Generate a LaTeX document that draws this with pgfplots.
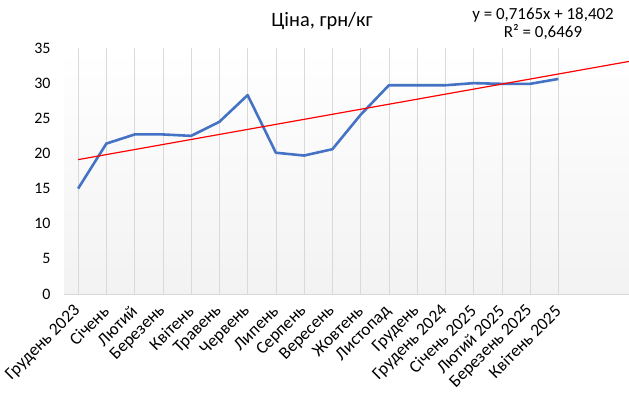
\documentclass[border=0pt]{standalone}
\usepackage{pgfplots}
\pgfplotsset{compat=1.18}
\usepackage{fontspec}
\setmainfont{Carlito}
\definecolor{lineblue}{HTML}{4472C4}
\definecolor{gridgray}{HTML}{D9D9D9}
\begin{document}
\begin{tikzpicture}[x=1bp,y=1bp]
\useasboundingbox (0,0) rectangle (629,398);
\begin{axis}[
  at={(64bp,104bp)}, anchor=south west,
  scale only axis, width=565bp, height=246bp,
  xmin=-0.5, xmax=19.5, ymin=0, ymax=35,
  axis x line*=bottom, axis y line*=left,
  x axis line style={gridgray, line width=0.8pt, -},
  y axis line style={draw=none},
  xtick={0,...,17},
  xticklabels={Грудень  2023, Січень, Лютий, Березень, Квітень, Травень, Червень, Липень, Серпень, Вересень, Жовтень, Листопад, Грудень, Грудень  2024, Січень  2025, Лютий  2025, Березень  2025, Квітень  2025},
  xticklabel style={anchor=east, xshift=2bp, yshift=-12bp, rotate=45, font=\fontsize{17.5}{19}\selectfont},
  ytick={0,5,...,35},
  yticklabel style={font=\fontsize{16}{18}\selectfont, xshift=-10bp},
  major tick length=0pt,
  xmajorgrids, major x grid style={gridgray, line width=0.7pt},
  /pgf/number format/assume math mode=true,
  axis background/.style={shade, top color=white, bottom color=black!5, draw=none},
  clip=true,
]
\addplot[lineblue, line width=2.6pt, line join=round] coordinates {
 (0,15.0) (1,21.4) (2,22.7) (3,22.7) (4,22.5) (5,24.5) (6,28.3) (7,20.1) (8,19.7)
 (9,20.6) (10,25.5) (11,29.7) (12,29.7) (13,29.7) (14,30.0) (15,29.9) (16,29.9) (17,30.6)
};
\addplot[red, line width=1.2pt] coordinates {(0,19.1185) (19.5,33.0903)};
\end{axis}
\node[font=\fontsize{20.5}{22}\selectfont] at (322,377) {Ціна, грн/кг};
\node[font=\fontsize{17}{18}\selectfont, align=center] at (543,374) {y = 0,7165x + 18,402\\[0bp]R² = 0,6469};
\end{tikzpicture}
\end{document}
